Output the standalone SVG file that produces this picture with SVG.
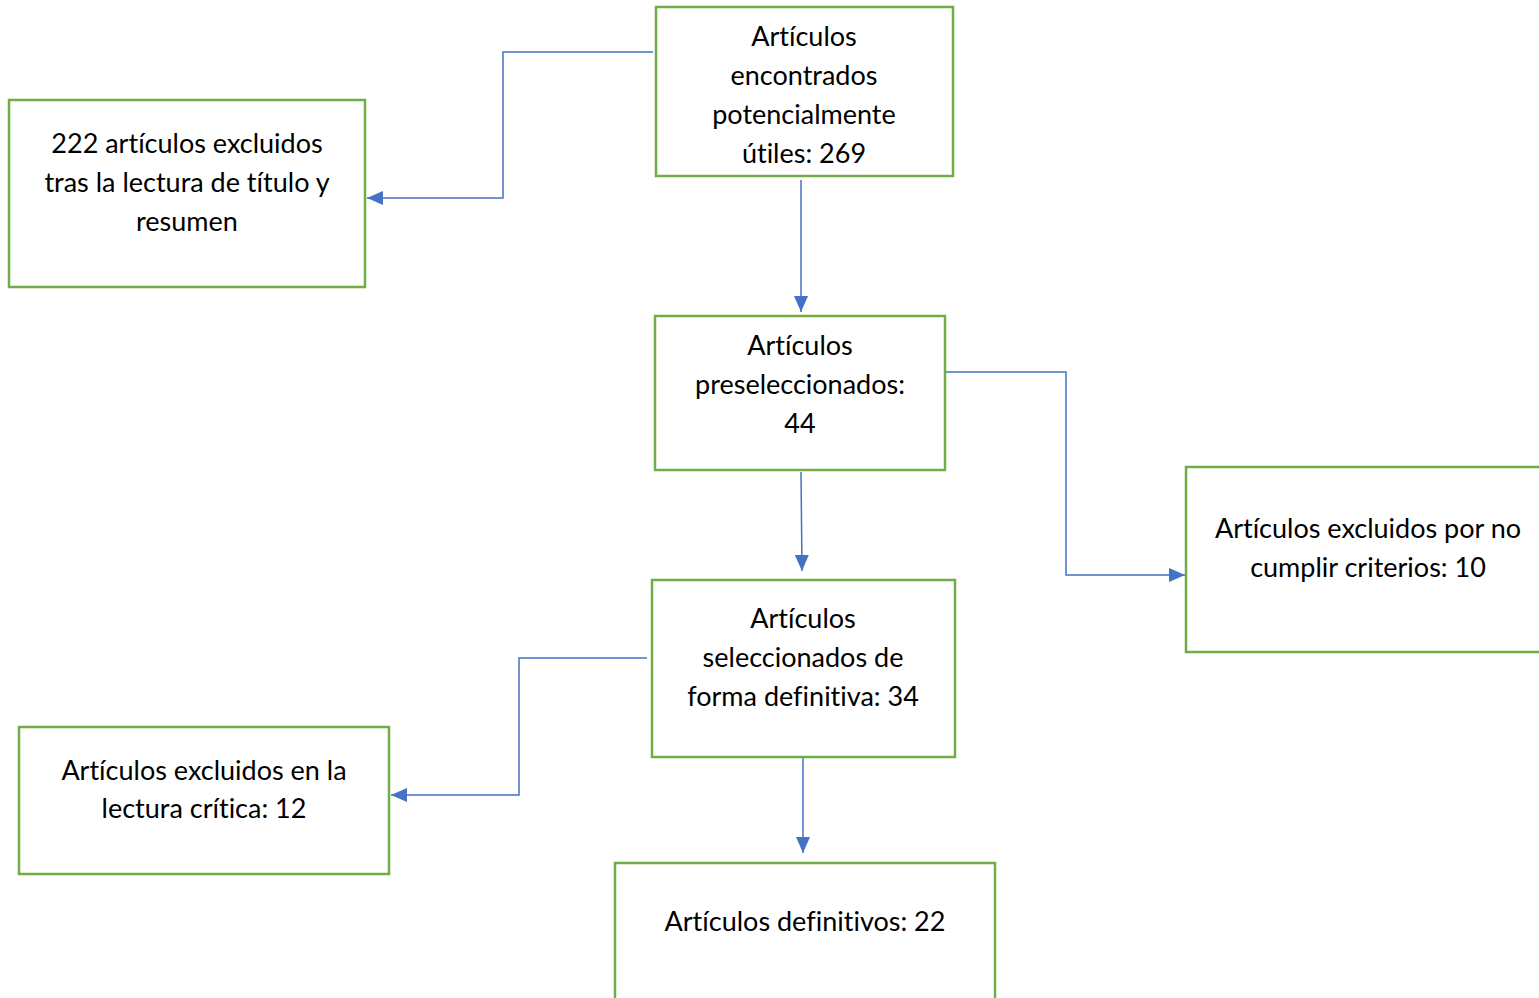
<svg xmlns="http://www.w3.org/2000/svg" width="1539" height="998" viewBox="0 0 1539 998">
<style>
.box{fill:#fff;stroke:#70AD47;stroke-width:2.5}
.t{font-family:Lato,"Liberation Sans",sans-serif;font-size:27px;fill:#000;text-anchor:middle;font-variant-ligatures:none;font-feature-settings:"liga" 0}
.c{fill:none;stroke:#4472C4;stroke-width:1.5}
</style>
<defs>
<marker id="ah" viewBox="0 0 16 14" refX="16" refY="7" markerWidth="16" markerHeight="14" markerUnits="userSpaceOnUse" orient="auto">
<path d="M0,0 L16,7 L0,14 Z" fill="#4472C4"/>
</marker>
</defs>
<rect width="1539" height="998" fill="#fff"/>
<g id="connectors">
<polyline class="c" points="653,52 503,52 503,198 367,198" marker-end="url(#ah)"/>
<line class="c" x1="801" y1="180" x2="801" y2="312" marker-end="url(#ah)"/>
<polyline class="c" points="946,372 1066,372 1066,575 1185,575" marker-end="url(#ah)"/>
<line class="c" x1="801" y1="472" x2="802" y2="571" marker-end="url(#ah)"/>
<polyline class="c" points="647,658 519,658 519,795 391,795" marker-end="url(#ah)"/>
<line class="c" x1="803" y1="758" x2="803" y2="853" marker-end="url(#ah)"/>
</g>
<g id="n1"><rect class="box" x="656" y="7" width="297" height="169"/>
<text class="t" x="804"><tspan x="804" y="46">Artículos</tspan><tspan x="804" y="85">encontrados</tspan><tspan x="804" y="124">potencialmente</tspan><tspan x="804" y="163">útiles: 269</tspan></text></g>
<g id="n2"><rect class="box" x="9" y="100" width="356" height="187"/>
<text class="t"><tspan x="187" y="153">222 artículos excluidos</tspan><tspan x="187" y="192">tras la lectura de título y</tspan><tspan x="187" y="231">resumen</tspan></text></g>
<g id="n3"><rect class="box" x="655" y="316" width="290" height="154"/>
<text class="t"><tspan x="800" y="355">Artículos</tspan><tspan x="800" y="394">preseleccionados:</tspan><tspan x="800" y="433">44</tspan></text></g>
<g id="n4"><rect class="box" x="1186" y="467" width="360" height="185"/>
<text class="t"><tspan x="1368" y="538">Artículos excluidos por no</tspan><tspan x="1368" y="577">cumplir criterios: 10</tspan></text></g>
<g id="n5"><rect class="box" x="652" y="580" width="303" height="177"/>
<text class="t"><tspan x="803" y="628">Artículos</tspan><tspan x="803" y="667">seleccionados de</tspan><tspan x="803" y="706">forma definitiva: 34</tspan></text></g>
<g id="n6"><rect class="box" x="19" y="727" width="370" height="147"/>
<text class="t"><tspan x="204" y="780">Artículos excluidos en la</tspan><tspan x="204" y="818">lectura crítica: 12</tspan></text></g>
<g id="n7"><rect class="box" x="615" y="863" width="380" height="150"/>
<text class="t"><tspan x="805" y="931">Artículos definitivos: 22</tspan></text></g>
</svg>
